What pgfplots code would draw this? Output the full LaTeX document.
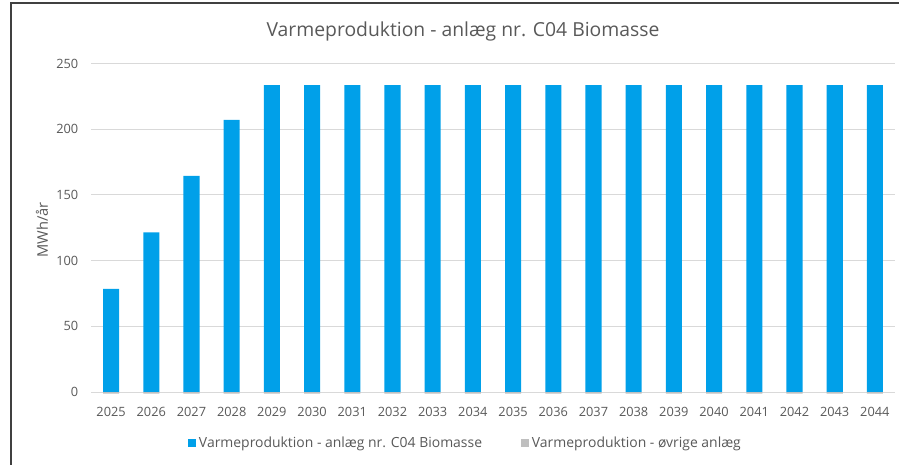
\documentclass[border=0pt]{standalone}
\usepackage{pgfplots}
\pgfplotsset{compat=1.18}
\usepackage{fontspec}
\setmainfont{Open Sans}
\definecolor{barblue}{RGB}{0,160,233}
\definecolor{bargrey}{RGB}{191,191,191}
\definecolor{txtgrey}{RGB}{89,89,89}
\definecolor{gridgrey}{RGB}{217,217,217}
\definecolor{framegrey}{RGB}{64,64,64}
\begin{document}
\begin{tikzpicture}
  % page = 899x464 px at 0.75pt per px
  \useasboundingbox (0pt,0pt) rectangle (674.25pt,348pt);
  \draw[framegrey, line width=0.9pt] (8.25pt,-20pt) -- (8.25pt,345.75pt) -- (700pt,345.75pt);
  \node[txtgrey, font=\fontsize{14.5}{17}\selectfont] at (347.25pt,324.75pt) {Varmeproduktion - anlæg nr. C04 Biomasse};
  \node[txtgrey, rotate=90, font=\fontsize{11}{13}\selectfont] at (31.5pt,175.5pt) {MWh/år};
  \begin{axis}[
      at={(68.25pt,54pt)}, anchor=south west,
      scale only axis,
      width=603pt, height=246.4pt,
      xmin=2024.5, xmax=2044.5,
      ymin=0, ymax=250,
      ytick={0,50,...,250},
      xtick={2025,...,2044},
      xticklabel style={/pgf/number format/1000 sep={}, text height=1.6ex, text depth=0pt, yshift=-6pt},
      yticklabel style={xshift=-6pt},
      /pgf/number format/assume math mode=true,
      ticklabel style={font=\fontsize{9.6}{11}\selectfont, text=txtgrey},
      axis line style={draw=none},
      major tick length=0pt,
      ymajorgrids,
      grid style={gridgrey, line width=0.75pt},
      clip=false,
      bar width=0.4,
      legend style={at={(0.466,-0.155)}, anchor=center, draw=none,
        font=\fontsize{10.45}{12}\selectfont, text=txtgrey,
        /tikz/every even column/.append style={column sep=27pt}},
      legend columns=2,
      legend image code/.code={\fill[#1] (0pt,-3.2pt) rectangle (6.4pt,3.2pt);},
    ]
    \addplot[ybar, fill=barblue, draw=none, bar shift=0pt] coordinates {
      (2025,78.5) (2026,121.5) (2027,164.5) (2028,207) (2029,233.5)
      (2030,233.5) (2031,233.5) (2032,233.5) (2033,233.5) (2034,233.5)
      (2035,233.5) (2036,233.5) (2037,233.5) (2038,233.5) (2039,233.5)
      (2040,233.5) (2041,233.5) (2042,233.5) (2043,233.5) (2044,233.5)
    };
    \addlegendentry{Varmeproduktion - anlæg nr. C04 Biomasse}
    \addplot[ybar, fill=bargrey, draw=none, bar shift=0pt] coordinates {
      (2025,-1.2) (2026,-1.2) (2027,-1.2) (2028,-1.2) (2029,-1.2)
      (2030,-1.2) (2031,-1.2) (2032,-1.2) (2033,-1.2) (2034,-1.2)
      (2035,-1.2) (2036,-1.2) (2037,-1.2) (2038,-1.2) (2039,-1.2)
      (2040,-1.2) (2041,-1.2) (2042,-1.2) (2043,-1.2) (2044,-1.2)
    };
    \addlegendentry{Varmeproduktion - øvrige anlæg}
  \end{axis}
\end{tikzpicture}
\end{document}
